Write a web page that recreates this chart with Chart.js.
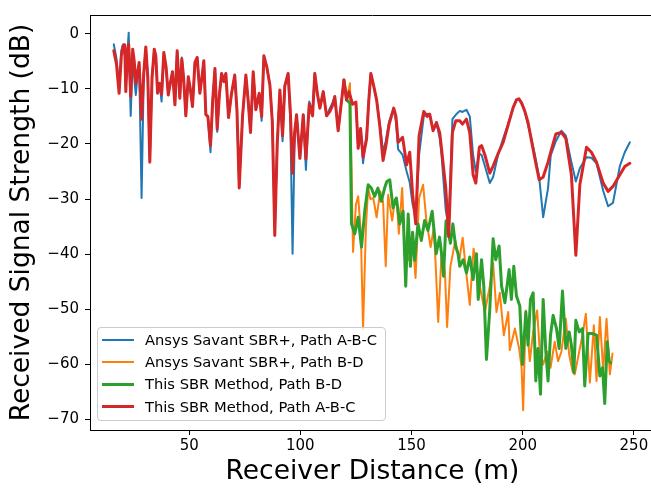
<!DOCTYPE html>
<html>
<head>
<meta charset="utf-8">
<script src="https://cdn.jsdelivr.net/npm/chart.js@4.4.1/dist/chart.umd.min.js"></script>
<style>
  html, body { margin: 0; padding: 0; background: #fff; overflow: hidden; width: 651px; height: 489px; }
  #wrap { position: relative; width: 660px; height: 489px; }
  #legend { position: absolute; left: 97px; top: 327px; width: 289px; height: 94px; box-sizing: border-box;
            border: 1px solid #cccccc; border-radius: 4px; background: rgba(255,255,255,0.8);
            font-family: 'DejaVu Sans', sans-serif; font-size: 14.7px; color: #000; }
  .lrow { position: absolute; left: 0; height: 22px; width: 100%; }
  .lsw { position: absolute; left: 4px; width: 32px; top: 50%; }
  .ltx { position: absolute; left: 47px; top: 0; line-height: 22px; white-space: nowrap; }
</style>
</head>
<body>
<div id="wrap">
  <canvas id="c" width="660" height="489"></canvas>
  <div id="legend"></div>
</div>
<script>
// ---------------- data ----------------
const seriesLabels = [
  'Ansys Savant SBR+, Path A-B-C',
  'Ansys Savant SBR+, Path B-D',
  'This SBR Method, Path B-D',
  'This SBR Method, Path A-B-C'
];

// receiver distance (m) for path A-B-C (both methods)
const distABC = [16.1,17.3,18.5,19.5,20.3,21.0,21.5,22.3,22.8,23.7,24.6,25.3,26.0,27.0,27.5,28.6,29.6,30.5,31.4,32.3,
  33.3,34.3,35.0,35.8,36.8,37.6,38.6,39.6,40.6,41.5,42.5,43.6,44.6,45.8,46.7,47.5,48.5,49.6,50.5,51.5,
  52.6,53.6,54.8,55.7,56.6,57.5,58.4,59.6,60.6,61.6,62.6,63.6,64.6,65.6,66.5,67.7,69.0,70.5,71.5,72.5,
  74.0,75.5,76.5,77.6,78.8,80.0,81.5,82.6,83.6,84.9,86.3,87.4,88.5,89.6,90.8,92.0,93.0,94.5,95.5,96.5,
  97.4,98.3,99.8,101.3,102.5,104.0,105.5,106.5,107.7,108.8,110.3,111.8,113.3,114.5,115.5,117.0,118.3,119.6,120.8,121.9,
  123.5,125.0,126.0,127.1,128.2,129.8,130.8,131.7,133.0,134.3,135.8,137.2,138.4,139.9,142.0,143.0,144.0,146.0,147.8,149.2,
  150.5,151.9,153.4,155.5,157.0,158.2,159.7,161.2,162.7,163.5,165.4,166.7,168.4,169.9,171.7,172.9,174.7,176.2,177.7,178.9,
  180.5,181.5,183.0,185.2,186.7,188.9,191.2,194.2,195.7,197.2,198.3,199.5,200.9,202.4,203.9,205.5,207.4,209.2,211.4,212.6,
  214.9,217.4,219.4,221.9,223.9,225.7,228.7,230.9,233.2,236.2,238.4,240.6,243.7,245.9,248.2];

// Ansys Savant SBR+, path A-B-C (dB)
const ansysABC = [-1.9,-4.5,-9.5,-3.0,-1.9,-2.5,-10.0,-3.0,0.2,-14.9,-4.0,-8.0,-11.1,-6.5,-5.5,-29.8,-7.0,-2.6,-8.0,-23.0,
  -8.0,-2.8,-4.2,-10.8,-9.5,-12.3,-3.4,-6.0,-11.1,-9.0,-6.9,-12.9,-3.1,-11.7,-4.3,-8.0,-14.9,-7.8,-10.0,-13.2,
  -5.2,-4.3,-10.8,-8.0,-4.9,-14.7,-15.0,-21.5,-12.0,-6.3,-17.8,-11.0,-7.2,-8.7,-7.2,-15.2,-11.0,-7.5,-14.0,-27.5,
  -15.0,-7.5,-12.0,-17.9,-6.9,-13.8,-10.8,-15.8,-4.0,-6.0,-9.3,-16.0,-35.5,-20.0,-10.2,-19.5,-9.5,-7.2,-16.0,-39.9,
  -20.0,-14.7,-22.6,-14.7,-24.7,-12.3,-14.0,-7.2,-11.0,-13.5,-10.5,-14.9,-13.5,-12.5,-11.4,-17.6,-13.0,-8.4,-12.0,-10.5,
  -12.8,-12.4,-20.8,-17.2,-23.5,-18.0,-12.0,-7.2,-9.5,-12.0,-16.5,-21.5,-19.5,-16.0,-13.5,-16.0,-21.0,-22.0,-25.0,-27.0,
  -31.0,-33.0,-22.0,-15.0,-14.5,-14.6,-17.6,-16.1,-19.0,-22.0,-32.0,-35.0,-15.5,-14.7,-14.0,-14.2,-13.8,-15.0,-22.0,-25.0,
  -21.8,-22.0,-24.0,-27.1,-26.0,-22.0,-19.0,-15.5,-13.4,-12.0,-11.8,-12.4,-14.0,-16.5,-19.0,-22.0,-26.0,-33.3,-28.0,-22.1,
  -19.5,-17.6,-18.5,-23.3,-26.8,-24.4,-22.4,-22.5,-23.5,-28.5,-31.3,-30.7,-24.0,-21.5,-19.7];

// This SBR method, path A-B-C (dB)
const sbrABC = [-3.1,-5.5,-10.8,-4.0,-2.2,-2.0,-10.5,-3.0,-1.9,-11.4,-2.8,-5.0,-9.0,-6.5,-5.2,-15.5,-7.0,-2.4,-8.0,-23.3,
  -8.0,-2.8,-4.0,-10.8,-9.0,-11.0,-3.4,-6.0,-11.1,-9.0,-6.9,-12.9,-3.1,-11.7,-4.6,-8.0,-14.9,-7.8,-10.0,-13.2,
  -5.2,-4.3,-10.8,-8.0,-4.9,-14.7,-15.0,-20.3,-12.0,-6.3,-17.3,-11.0,-7.2,-8.7,-7.2,-15.2,-11.0,-7.5,-14.0,-28.0,
  -15.0,-7.5,-12.0,-17.9,-6.9,-13.8,-10.8,-15.0,-4.0,-6.0,-9.3,-16.0,-36.6,-20.0,-10.2,-18.5,-9.5,-7.2,-14.0,-25.3,
  -18.0,-14.7,-22.6,-14.7,-22.7,-12.8,-14.9,-7.2,-11.0,-13.5,-10.5,-14.9,-14.1,-13.0,-11.4,-17.6,-13.0,-8.4,-12.0,-10.5,
  -12.8,-12.4,-20.8,-17.2,-22.4,-19.1,-12.0,-7.2,-9.5,-12.0,-17.0,-23.0,-20.5,-16.5,-13.5,-15.0,-19.7,-18.8,-23.8,-21.5,
  -29.2,-34.5,-18.5,-14.1,-15.0,-14.6,-17.6,-16.1,-18.0,-20.9,-28.0,-36.8,-17.9,-15.8,-15.8,-16.4,-15.5,-18.0,-25.6,-27.1,
  -20.6,-20.3,-22.0,-25.3,-24.0,-21.8,-19.7,-15.5,-13.4,-12.0,-11.8,-12.6,-14.0,-16.1,-19.3,-22.7,-26.5,-26.0,-23.3,-21.5,
  -18.2,-17.9,-19.0,-25.6,-40.2,-27.4,-20.6,-21.5,-23.3,-27.1,-28.6,-27.7,-25.6,-24.1,-23.5];

// Ansys Savant SBR+, path B-D
const distAnsysBD = [119.6,120.8,122.3,123.7,125.0,126.0,127.2,128.2,129.5,130.5,131.5,132.8,134.3,135.9,137.2,138.4,139.5,141.3,142.5,143.5,
  144.3,145.8,147.0,148.8,150.3,151.8,153.4,155.2,156.7,158.6,160.1,162.0,163.5,165.0,166.0,167.5,169.7,171.5,173.0,174.5,
  176.2,177.9,179.3,180.7,183.0,185.2,186.7,188.2,189.7,191.5,193.5,194.2,196.5,198.4,199.5,200.2,201.4,203.2,204.7,206.5,
  207.7,209.2,211.0,212.5,214.4,215.9,217.4,219.4,220.9,222.4,223.4,225.4,226.9,228.4,230.2,232.0,233.2,234.7,236.2,237.7,
  239.2,240.4];
const ansysBD = [-8.4,-12.0,-9.0,-39.6,-31.0,-29.5,-36.0,-53.5,-35.0,-28.0,-30.0,-29.8,-33.3,-28.6,-30.5,-42.2,-29.2,-33.9,-30.0,-31.0,
  -36.3,-28.0,-40.0,-41.1,-36.0,-44.3,-29.8,-27.4,-33.9,-38.7,-35.1,-52.3,-39.9,-43.0,-53.2,-42.2,-37.5,-41.0,-37.0,-43.0,
  -49.2,-39.0,-42.0,-45.8,-50.5,-45.8,-41.6,-50.5,-47.0,-54.7,-50.5,-57.4,-53.5,-57.1,-60.6,-68.3,-50.2,-59.4,-54.1,-50.2,
  -57.7,-60.0,-57.7,-60.6,-55.9,-59.4,-57.7,-51.7,-58.2,-61.2,-61.8,-57.7,-54.7,-50.8,-63.3,-52.9,-63.0,-51.4,-61.2,-51.7,
  -61.8,-58.0];

// This SBR method, path B-D
const distSbrBD = [119.6,120.8,122.3,123.0,124.5,126.0,127.5,129.0,130.5,131.9,133.4,134.9,136.4,137.9,138.9,140.2,141.7,143.2,144.7,146.2,
  147.4,148.5,149.5,150.5,151.4,152.9,154.4,155.9,157.4,159.3,161.1,162.6,163.5,164.4,165.5,166.4,167.5,168.6,169.8,170.9,
  171.7,173.2,174.7,176.2,177.7,179.2,180.0,181.5,182.5,183.7,185.2,186.7,187.9,189.4,190.5,192.0,193.9,194.9,196.0,197.2,
  198.7,199.9,201.4,202.4,203.5,204.7,205.9,206.9,208.0,209.2,210.4,211.4,212.5,213.7,215.2,216.4,217.9,219.4,220.9,221.9,
  223.0,223.9,225.4,226.9,227.9,229.4,231.4,233.2,234.7,235.9,236.9,238.0,238.9,239.5];
const sbrBD = [-8.4,-12.0,-12.6,-34.5,-36.3,-33.3,-38.7,-32.0,-27.4,-28.0,-29.5,-28.0,-30.4,-28.0,-26.8,-26.5,-31.6,-29.8,-34.5,-32.2,
  -45.8,-32.7,-42.2,-36.0,-41.1,-34.5,-37.5,-33.9,-35.7,-32.2,-39.9,-36.9,-39.9,-44.0,-34.0,-35.7,-38.0,-34.5,-38.5,-39.9,
  -42.2,-41.0,-43.4,-40.5,-44.6,-39.9,-48.2,-41.0,-45.8,-59.1,-50.0,-37.2,-41.0,-38.5,-45.8,-48.8,-42.8,-48.2,-42.2,-47.6,
  -49.4,-60.0,-50.5,-56.5,-48.2,-47.0,-63.0,-57.1,-65.4,-48.2,-57.7,-63.0,-54.7,-51.1,-53.5,-57.1,-46.7,-57.1,-54.1,-56.5,
  -61.5,-52.0,-54.1,-53.5,-63.9,-54.4,-54.4,-54.7,-62.1,-60.6,-67.1,-55.9,-59.4,-59.7];

// axis ticks
const xTickValues = [50, 100, 150, 200, 250];
const yTickValues = [0, -10, -20, -30, -40, -50, -60, -70];
const xRange = [5.4, 259.5];
const yRange = [-71.9, 3.4];

// ---------------- chart ----------------
const colors = ['#1f77b4', '#ff7f0e', '#2ca02c', '#d62728'];
const widths = [2, 2, 3, 3];
const drawOrder = [3, 2, 1, 0];
const xs = [distABC, distAnsysBD, distSbrBD, distABC];
const ys = [ansysABC, ansysBD, sbrBD, sbrABC];

const datasets = seriesLabels.map((lab, i) => ({
  label: lab,
  data: xs[i].map((x, k) => ({ x: x, y: ys[i][k] })),
  borderColor: colors[i],
  backgroundColor: colors[i],
  borderWidth: widths[i],
  pointRadius: 0,
  tension: 0,
  fill: false,
  order: drawOrder[i],
  borderJoinStyle: 'round',
  borderCapStyle: 'round'
}));

const minus = v => (v < 0 ? '\u2212' + Math.abs(v) : String(v));

const framePlugin = {
  id: 'frame',
  afterDatasetsDraw(chart) {
    const { ctx, chartArea: a } = chart;
    ctx.save();
    ctx.strokeStyle = '#000';
    ctx.lineWidth = 1;
    ctx.beginPath();
    ctx.moveTo(a.left, a.top + 0.5);
    ctx.lineTo(a.right, a.top + 0.5);
    ctx.lineTo(a.right, a.bottom);
    ctx.stroke();
    ctx.restore();
  }
};

const tickFont = { family: 'DejaVu Sans', size: 15 };
const titleFont = { family: 'DejaVu Sans', size: 26.5 };

const chart = new Chart(document.getElementById('c'), {
  type: 'line',
  data: { datasets },
  plugins: [framePlugin],
  options: {
    responsive: false,
    animation: false,
    events: [],
    layout: { padding: { top: 7, right: 5, left: 0, bottom: 0 } },
    plugins: { legend: { display: false }, tooltip: { enabled: false } },
    scales: {
      x: {
        type: 'linear',
        min: xRange[0], max: xRange[1],
        afterFit: s => { s.height = 59; },
        afterBuildTicks: s => { s.ticks = xTickValues.map(v => ({ value: v })); },
        ticks: { font: tickFont, color: '#000', padding: 2, maxRotation: 0, autoSkip: false, callback: v => minus(v) },
        grid: { drawOnChartArea: false, drawTicks: true, tickLength: 5, tickColor: '#000', color: '#000' },
        border: { display: true, color: '#000', width: 1 },
        title: { display: true, text: 'Receiver Distance (m)', font: titleFont, color: '#000', padding: { top: 0, bottom: 1 } }
      },
      y: {
        type: 'linear',
        min: yRange[0], max: yRange[1],
        afterFit: s => { s.width = 90; },
        afterBuildTicks: s => { s.ticks = yTickValues.map(v => ({ value: v })); },
        ticks: { font: tickFont, color: '#000', padding: 6, autoSkip: false, callback: v => minus(v) },
        grid: { drawOnChartArea: false, drawTicks: true, tickLength: 5, tickColor: '#000', color: '#000' },
        border: { display: true, color: '#000', width: 1 },
        title: { display: true, text: 'Received Signal Strength (dB)', font: titleFont, color: '#000', padding: { top: 6, bottom: 0 } }
      }
    }
  }
});

// legend built from the chart's datasets
const leg = document.getElementById('legend');
const rowCenters = [13, 34.7, 57, 79.7];
chart.data.datasets.forEach((ds, i) => {
  const row = document.createElement('div');
  row.className = 'lrow';
  row.style.top = (rowCenters[i] - 11 - 1) + 'px';
  const sw = document.createElement('div');
  sw.className = 'lsw';
  sw.style.height = ds.borderWidth + 'px';
  sw.style.marginTop = (-ds.borderWidth / 2) + 'px';
  sw.style.background = ds.borderColor;
  const tx = document.createElement('div');
  tx.className = 'ltx';
  tx.textContent = ds.label;
  row.appendChild(sw);
  row.appendChild(tx);
  leg.appendChild(row);
});
</script>
</body>
</html>
